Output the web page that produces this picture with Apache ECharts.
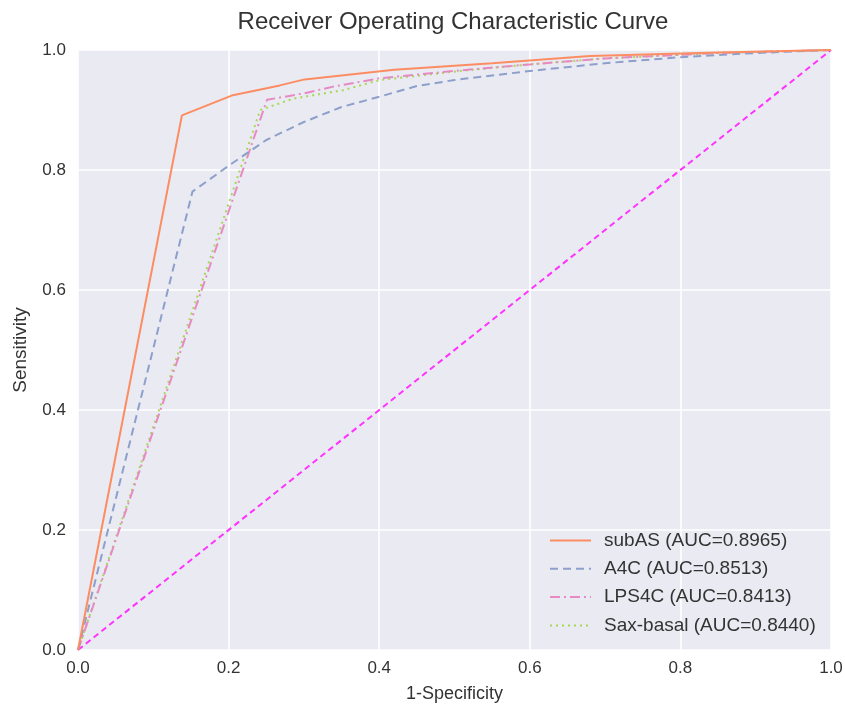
<!DOCTYPE html>
<html>
<head>
<meta charset="utf-8">
<script src="https://cdn.jsdelivr.net/npm/echarts@6/dist/echarts.min.js"></script>
<style>
  html, body { margin: 0; padding: 0; background: #fff; }
  #rocChart { width: 845px; height: 709px; }
</style>
</head>
<body>
<div id="rocChart"></div>
<script>
  // ROC points (1-specificity, sensitivity)
  var subAsFpr = [0, 0.138, 0.204, 0.268, 0.301, 0.42, 0.55, 0.68, 0.85, 1]
  var subAsTpr = [0, 0.891, 0.924, 0.941, 0.951, 0.967, 0.978, 0.99, 0.996, 1]
  var a4cFpr = [0, 0.152, 0.2, 0.25, 0.3, 0.35, 0.4, 0.45, 0.5, 0.6, 0.7, 0.8, 0.9, 1]
  var a4cTpr = [0, 0.764, 0.807, 0.85, 0.88, 0.905, 0.922, 0.94, 0.95, 0.965, 0.978, 0.988, 0.995, 1]
  var lps4cFpr = [0, 0.251, 0.301, 0.339, 0.401, 0.507, 0.6, 0.7, 0.85, 1]
  var lps4cTpr = [0, 0.917, 0.928, 0.939, 0.953, 0.966, 0.976, 0.986, 0.995, 1]
  var saxFpr = [0, 0.242, 0.286, 0.352, 0.401, 0.507, 0.6, 0.7, 0.85, 1]
  var saxTpr = [0, 0.9, 0.919, 0.933, 0.95, 0.965, 0.976, 0.986, 0.995, 1]
  var chanceFpr = [0, 1]
  var chanceTpr = [0, 1]
  var seriesNames = ['subAS (AUC=0.8965)', 'A4C (AUC=0.8513)', 'LPS4C (AUC=0.8413)', 'Sax-basal (AUC=0.8440)']

  function zip (xs, ys) {
    return xs.map(function (x, i) { return [x, ys[i]] })
  }

  function rocLine (name, xs, ys, color, dash) {
    return {
      name: name,
      type: 'line',
      data: zip(xs, ys),
      symbol: 'none',
      silent: true,
      lineStyle: { color: color, width: 2, type: dash },
      itemStyle: { color: color }
    }
  }

  var font = 'Liberation Sans'
  var charts = echarts.init(document.getElementById('rocChart'))
  var tickLabel = {
    color: '#333',
    fontSize: 17,
    fontFamily: font,
    formatter: function (val) { return val.toFixed(1) }
  }
  charts.setOption({
    animation: false,
    backgroundColor: '#fff',
    title: {
      text: 'Receiver Operating Characteristic Curve',
      left: 448,
      textAlign: 'center',
      top: 5,
      textStyle: { fontSize: 24, fontWeight: 'normal', color: '#333', fontFamily: font }
    },
    grid: {
      left: 78,
      right: 14,
      top: 50,
      bottom: 59,
      containLabel: false,
      outerBoundsMode: 'none',
      show: true,
      backgroundColor: '#eaeaf2',
      borderWidth: 0
    },
    legend: {
      orient: 'vertical',
      left: 544,
      top: 526,
      itemWidth: 41,
      itemHeight: 14,
      itemGap: 9.3,
      data: seriesNames,
      itemStyle: { opacity: 0 },
      textStyle: { fontSize: 19, color: '#333', fontFamily: font, padding: [0, 0, 0, 8] }
    },
    xAxis: {
      type: 'value',
      min: 0,
      max: 1,
      interval: 0.2,
      name: '1-Specificity',
      nameLocation: 'middle',
      nameGap: 35,
      nameTextStyle: { fontSize: 18, color: '#333', fontFamily: font },
      axisLine: { show: false },
      axisTick: { show: false },
      axisLabel: Object.assign({ margin: 10 }, tickLabel),
      splitLine: { show: true, lineStyle: { color: '#fff', width: 1.6 } }
    },
    yAxis: {
      type: 'value',
      min: 0,
      max: 1,
      interval: 0.2,
      name: 'Sensitivity',
      nameLocation: 'middle',
      nameGap: 48,
      nameTextStyle: { fontSize: 19, color: '#333', fontFamily: font },
      axisLine: { show: false },
      axisTick: { show: false },
      axisLabel: Object.assign({ margin: 12 }, tickLabel),
      splitLine: { show: true, lineStyle: { color: '#fff', width: 1.6 } }
    },
    series: [
      rocLine('chance', chanceFpr, chanceTpr, '#ff33ff', [6, 4]),
      rocLine(seriesNames[3], saxFpr, saxTpr, '#a6d854', [2, 4]),
      rocLine(seriesNames[2], lps4cFpr, lps4cTpr, '#e78ac3', [10, 4, 2, 4]),
      rocLine(seriesNames[1], a4cFpr, a4cTpr, '#8da0cb', [8, 5]),
      rocLine(seriesNames[0], subAsFpr, subAsTpr, '#fc8d62', 'solid')
    ]
  })
</script>
</body>
</html>
